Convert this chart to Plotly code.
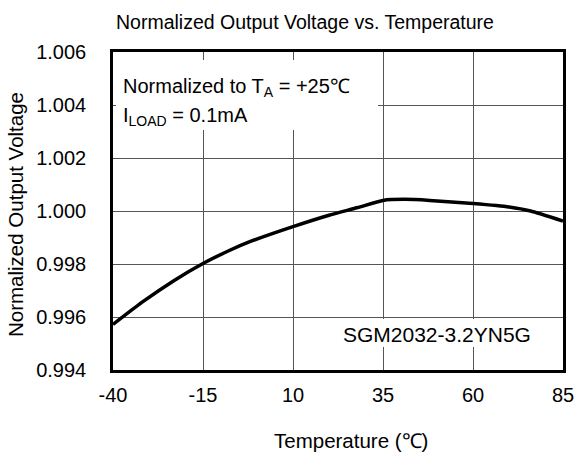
import plotly.graph_objects as go

# Data
temperature_c = [-40, -32, -23, -15, -8, -2, 10, 20, 28, 35, 41, 48, 60, 70, 76, 85]
normalized_vout = [0.99572, 0.99655, 0.99738, 0.99802, 0.99849, 0.99884, 0.99941,
                   0.99984, 1.00013, 1.00040, 1.00044, 1.00040, 1.00028, 1.00015,
                   1.00000, 0.99962]
x_ticks = [-40, -15, 10, 35, 60, 85]
x_tick_labels = ["-40", "-15", "10", "35", "60", "85"]
y_ticks = [0.994, 0.996, 0.998, 1.000, 1.002, 1.004, 1.006]
y_tick_labels = ["0.994", "0.996", "0.998", "1.000", "1.002", "1.004", "1.006"]

FONT = "Liberation Sans, Arial, sans-serif"

fig = go.Figure()
fig.add_trace(go.Scatter(
    x=temperature_c, y=normalized_vout, mode="lines",
    line=dict(color="black", width=3.5, shape="spline", smoothing=0.5),
    hoverinfo="skip", showlegend=False,
))

W, H = 576, 455
L, R, T, B = 113, 13, 52, 85
pw, ph = W - L - R, H - T - B

def px(x):
    return (x - L) / pw

def py(y):
    return (H - B - y) / ph

axis_common = dict(
    showgrid=True, gridcolor="#555555", gridwidth=1,
    showline=True, linecolor="black", linewidth=2.5, mirror=True,
    zeroline=False, ticks="",
    tickfont=dict(family=FONT, size=20, color="black"),
)

fig.update_layout(
    width=W, height=H,
    margin=dict(l=L, r=R, t=T, b=B, autoexpand=False),
    paper_bgcolor="white", plot_bgcolor="white",
    xaxis=dict(range=[-40, 85], tickvals=x_ticks, ticktext=x_tick_labels,
               ticklabelstandoff=5, **axis_common),
    yaxis=dict(range=[0.994, 1.006], tickvals=y_ticks, ticktext=y_tick_labels,
               ticklabelstandoff=20, **axis_common),
    shapes=[
        dict(type="rect", xref="paper", yref="paper",
             x0=px(116), x1=px(378), y0=py(130), y1=py(60),
             fillcolor="white", line=dict(width=0), layer="above"),
        dict(type="rect", xref="paper", yref="paper",
             x0=px(338), x1=px(533), y0=py(347), y1=py(319),
             fillcolor="white", line=dict(width=0), layer="above"),
    ],
    annotations=[
        dict(text="Normalized Output Voltage vs. Temperature", xref="paper", yref="paper",
             x=px(305), y=py(22), xanchor="center", yanchor="middle", showarrow=False,
             font=dict(family=FONT, size=19.5, color="black")),
        dict(text="Temperature (℃)", xref="paper", yref="paper",
             x=px(351), y=py(440), xanchor="center", yanchor="middle", showarrow=False,
             font=dict(family=FONT, size=20.5, color="black")),
        dict(text="Normalized Output Voltage", xref="paper", yref="paper",
             x=px(15), y=py(215), xanchor="center", yanchor="middle", showarrow=False,
             textangle=-90, font=dict(family=FONT, size=20.5, color="black")),
        dict(text="Normalized to T<sub>A</sub> = +25℃", xref="paper", yref="paper",
             x=px(121), y=py(87), xanchor="left", yanchor="middle", showarrow=False,
             font=dict(family=FONT, size=20, color="black")),
        dict(text="I<sub>LOAD</sub> = 0.1mA", xref="paper", yref="paper",
             x=px(121), y=py(117), xanchor="left", yanchor="middle", showarrow=False,
             font=dict(family=FONT, size=20, color="black")),
        dict(text="SGM2032-3.2YN5G", xref="paper", yref="paper",
             x=px(437), y=py(334), xanchor="center", yanchor="middle", showarrow=False,
             font=dict(family=FONT, size=21, color="black")),
    ],
)

fig.write_html(
    "out.html",
    config={"displayModeBar": False},
    post_script="document.body.style.margin='0';document.body.style.overflow='hidden';",
)
